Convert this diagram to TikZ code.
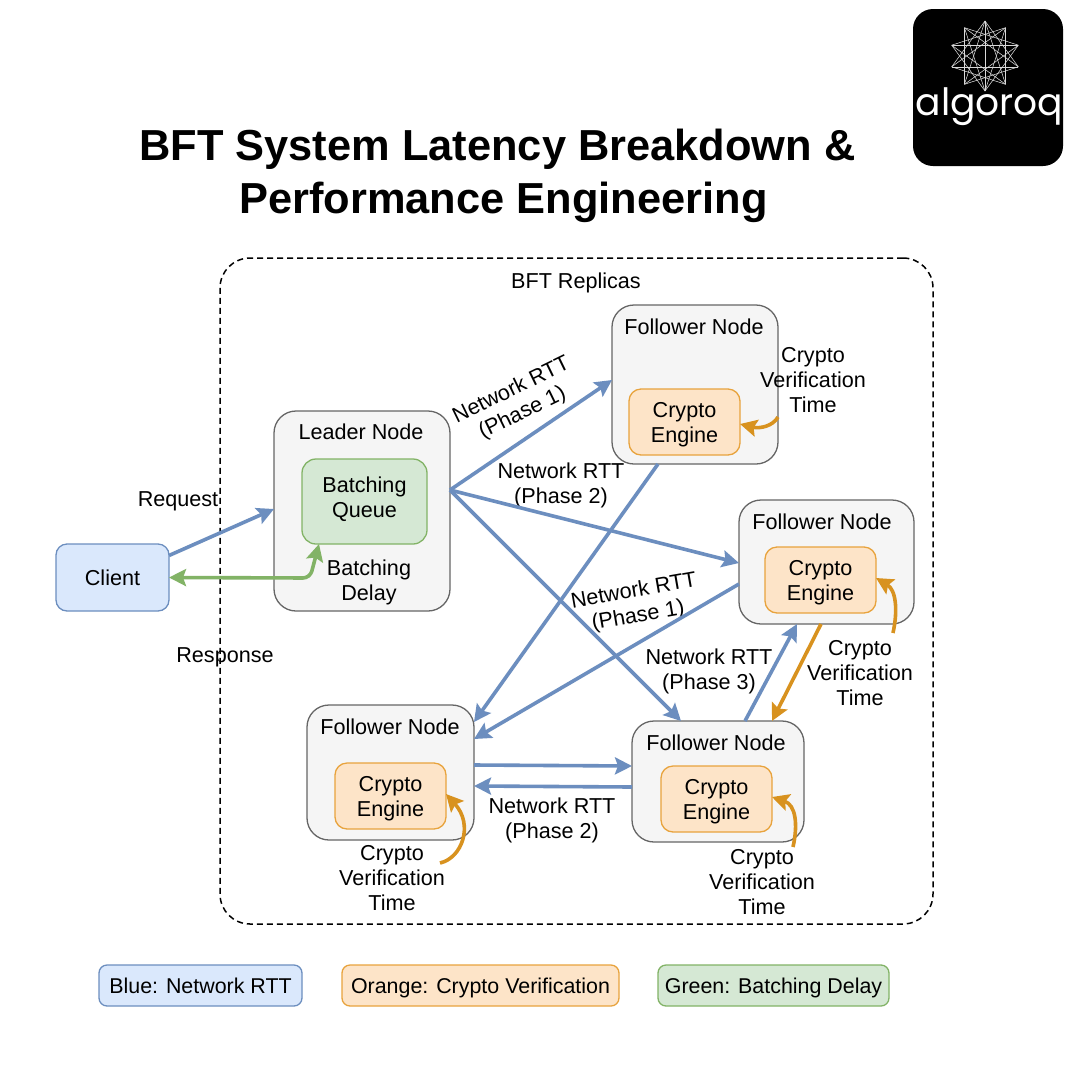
\documentclass[tikz,border=0pt]{standalone}
\usepackage{fontspec}
\setmainfont{Liberation Sans}
\newfontfamily\logofont{Poppins}
\usetikzlibrary{arrows.meta,calc}
\definecolor{bluel}{HTML}{6C8EBF}
\definecolor{bluef}{HTML}{DAE8FC}
\definecolor{greenl}{HTML}{82B366}
\definecolor{greenf}{HTML}{D5E8D4}
\definecolor{orangel}{HTML}{D8921F}
\definecolor{orangeb}{HTML}{E8A33D}
\definecolor{orangef}{HTML}{FDE4C8}
\definecolor{grayl}{HTML}{666666}
\definecolor{grayf}{HTML}{F5F5F5}
\newcommand{\toppad}{\rule{0pt}{20pt}}
\newcommand{\botpad}{\rule[-9pt]{0pt}{9pt}}
\newcommand{\legtext}[1]{\raisebox{0pt}[16pt][0pt]{#1}}
\tikzset{
  box/.style={draw,line width=1.3pt,rounded corners=#1,inner sep=0pt,outer sep=0pt,align=center,font=\fontsize{21.6}{25}\selectfont},
  box/.default=22pt,
  nodebox/.style={box=22pt,draw=grayl,fill=grayf},
  cryptobox/.style={box=12pt,draw=orangeb,fill=orangef,minimum width=111pt,minimum height=66pt},
  legendbox/.style={box=8pt,minimum height=41pt,font=\fontsize{21.4}{25}\selectfont},
  lab/.style={align=center,inner sep=0pt,font=\fontsize{21.6}{25}\selectfont},
  tip/.style={-{Stealth[length=17pt,width=17pt,inset=3pt]}},
  netarrow/.style={tip,draw=bluel,line width=3.6pt},
  cryptoarrow/.style={tip,draw=orangel,line width=3.6pt},
  batcharrow/.style={{Stealth[length=17pt,width=17pt,inset=3pt]}-{Stealth[length=17pt,width=17pt,inset=3pt]},draw=greenl,line width=3.6pt,rounded corners=7pt},
  logoline/.style={draw=white!85!black,line width=0.55pt,line join=round}
}
\begin{document}
\begin{tikzpicture}[x=1pt,y=-1pt]
\useasboundingbox (0,0) rectangle (1080,1080);
\fill[white] (0,0) rectangle (1080,1080);

% logo
\node[fill=black,rounded corners=20pt,minimum width=150pt,minimum height=157pt,inner sep=0pt,outer sep=0pt] (logo) at (988,87.5) {};
\foreach \i in {0,...,9}{
  \draw[logoline] ($(985,56)+({cos(90+36*\i)*35},{sin(90+36*\i)*35})$) -- ($(985,56)+({cos(198+36*\i)*35},{sin(198+36*\i)*35})$);
  \draw[logoline] ($(985,56)+({cos(90+36*\i)*35},{sin(90+36*\i)*35})$) -- ($(985,56)+({cos(234+36*\i)*35},{sin(234+36*\i)*35})$);
}
\draw[logoline] (985,21) -- (985,91);
\node[text=white,inner sep=0pt,font=\logofont\fontsize{37.6}{37.6}\selectfont] (logotext) at (989.5,107) {algoroq};

% title
\node[align=center,inner sep=0pt,font=\bfseries\fontsize{43.4}{53}\selectfont] (title) at (497.5,175.5) {BFT System Latency Breakdown \&\\\hspace*{12pt}Performance Engineering};

% replicas
\node[draw,dash pattern=on 6pt off 4pt,line width=1.5pt,rounded corners=30pt,minimum width=713pt,minimum height=666pt,inner sep=0pt,outer sep=0pt] (replicas) at (576.5,591) {};
\node[lab] (replab) at (576,283) {BFT Replicas};

% client and leader
\node[box=11pt,draw=bluel,fill=bluef,minimum width=113pt,minimum height=67pt] (client) at (112.5,577.5) {Client};
\node[nodebox,minimum width=176pt,minimum height=200pt] (leader) at (362,511) {};
\node[lab] (leadlab) at (361,432) {Leader Node};
\node[box=14pt,draw=greenl,fill=greenf,minimum width=125pt,minimum height=85pt] (queue) at (364.5,501.5) {Batching\\Queue\botpad};
\node[lab] (delaylab) at (369,582) {Batching\\Delay};

% followers
\node[nodebox,minimum width=166pt,minimum height=159pt] (fa) at (695,384.5) {};
\node[lab] (falab) at (694,327) {Follower Node};
\node[cryptobox] (ca) at (684.5,422) {\toppad Crypto\\Engine};

\node[nodebox,minimum width=175pt,minimum height=124pt] (fb) at (826.5,562) {};
\node[lab] (fblab) at (822,522) {Follower Node};
\node[cryptobox] (cb) at (820.5,580) {\toppad Crypto\\Engine};

\node[nodebox,minimum width=167pt,minimum height=135pt] (fc) at (390.5,772.5) {};
\node[lab] (fclab) at (390,727) {Follower Node};
\node[cryptobox] (cc) at (390.5,796) {\toppad Crypto\\Engine};

\node[nodebox,minimum width=172pt,minimum height=121pt] (fd) at (718,781.5) {};
\node[lab] (fdlab) at (716,743) {Follower Node};
\node[cryptobox] (cd) at (716.5,799) {\toppad Crypto\\Engine};

% labels
\node[lab] (reqlab) at (178,501) {Request};
\node[lab] (resplab) at (225,657) {Response};
\node[lab,rotate=26] (n1) at (517,402) {Network RTT\\(Phase 1)};
\node[lab] (n2) at (561,485) {Network RTT\\(Phase 2)};
\node[lab,rotate=10] (n3) at (636,604) {Network RTT\\(Phase 1)};
\node[lab] (n4) at (709,671) {Network RTT\\(Phase 3)};
\node[lab] (n5) at (552,820) {Network RTT\\(Phase 2)};
\node[lab] (v1) at (813,380) {Crypto\\Verification\\Time};
\node[lab] (v2) at (860,673) {Crypto\\Verification\\Time};
\node[lab] (v3) at (392,878) {Crypto\\Verification\\Time};
\node[lab] (v4) at (762,882) {Crypto\\Verification\\Time};

% legend
\node[legendbox,draw=bluel,fill=bluef,minimum width=203pt] (lega) at (200.5,985.5) {\legtext{Blue: Network RTT}};
\node[legendbox,draw=orangeb,fill=orangef,minimum width=277pt] (legb) at (480.5,985.5) {\legtext{Orange: Crypto Verification}};
\node[legendbox,draw=greenl,fill=greenf,minimum width=231pt] (legc) at (773.5,985.5) {\legtext{Green: Batching Delay}};

% connectors
\draw[netarrow] ([yshift=22pt]client.east) -- ([yshift=2pt]leader.west);
\coordinate (bend) at (310,578);
\draw[batcharrow] (client.east) -- (bend) -- ([xshift=17pt]queue.south west);
\coordinate (lout) at ([yshift=21pt]leader.east);
\draw[netarrow] (lout) -- ([yshift=4.5pt]fa.west);
\draw[netarrow] (lout) -- ([yshift=-1pt]fb.west);
\draw[netarrow] (lout) -- ([xshift=-37pt]fd.north);
\draw[netarrow] ([xshift=-37pt]fa.south) -- ([yshift=50.5pt]fc.east);
\draw[netarrow] ([yshift=-22pt]fb.west) -- ([yshift=33.5pt]fc.east);
\draw[netarrow] ([yshift=7.5pt]fc.east) -- ([yshift=15.5pt]fd.west);
\draw[netarrow] ([yshift=-5.5pt]fd.west) -- ([yshift=-13.5pt]fc.east);
\draw[netarrow] ([xshift=27pt]fd.north) -- ([xshift=-29.5pt]fb.south);
\draw[cryptoarrow] ([xshift=-5.5pt]fb.south) -- ([xshift=54pt]fd.north);

\coordinate (sa) at (778,417);
\coordinate (sb) at (893,633);
\coordinate (sc) at (440,863);
\coordinate (sd) at (793,847);
\draw[cryptoarrow] (sa) .. controls (773,426) and (760,429) .. ([yshift=-2pt]ca.east);
\draw[cryptoarrow] (sb) .. controls (898,610) and (896,590) .. ([yshift=2pt]cb.east);
\draw[cryptoarrow] (sc) .. controls (462,858) and (474,825) .. ([yshift=2pt]cc.east);
\draw[cryptoarrow] (sd) .. controls (798,825) and (796,805) .. ([yshift=2pt]cd.east);
\end{tikzpicture}
\end{document}
